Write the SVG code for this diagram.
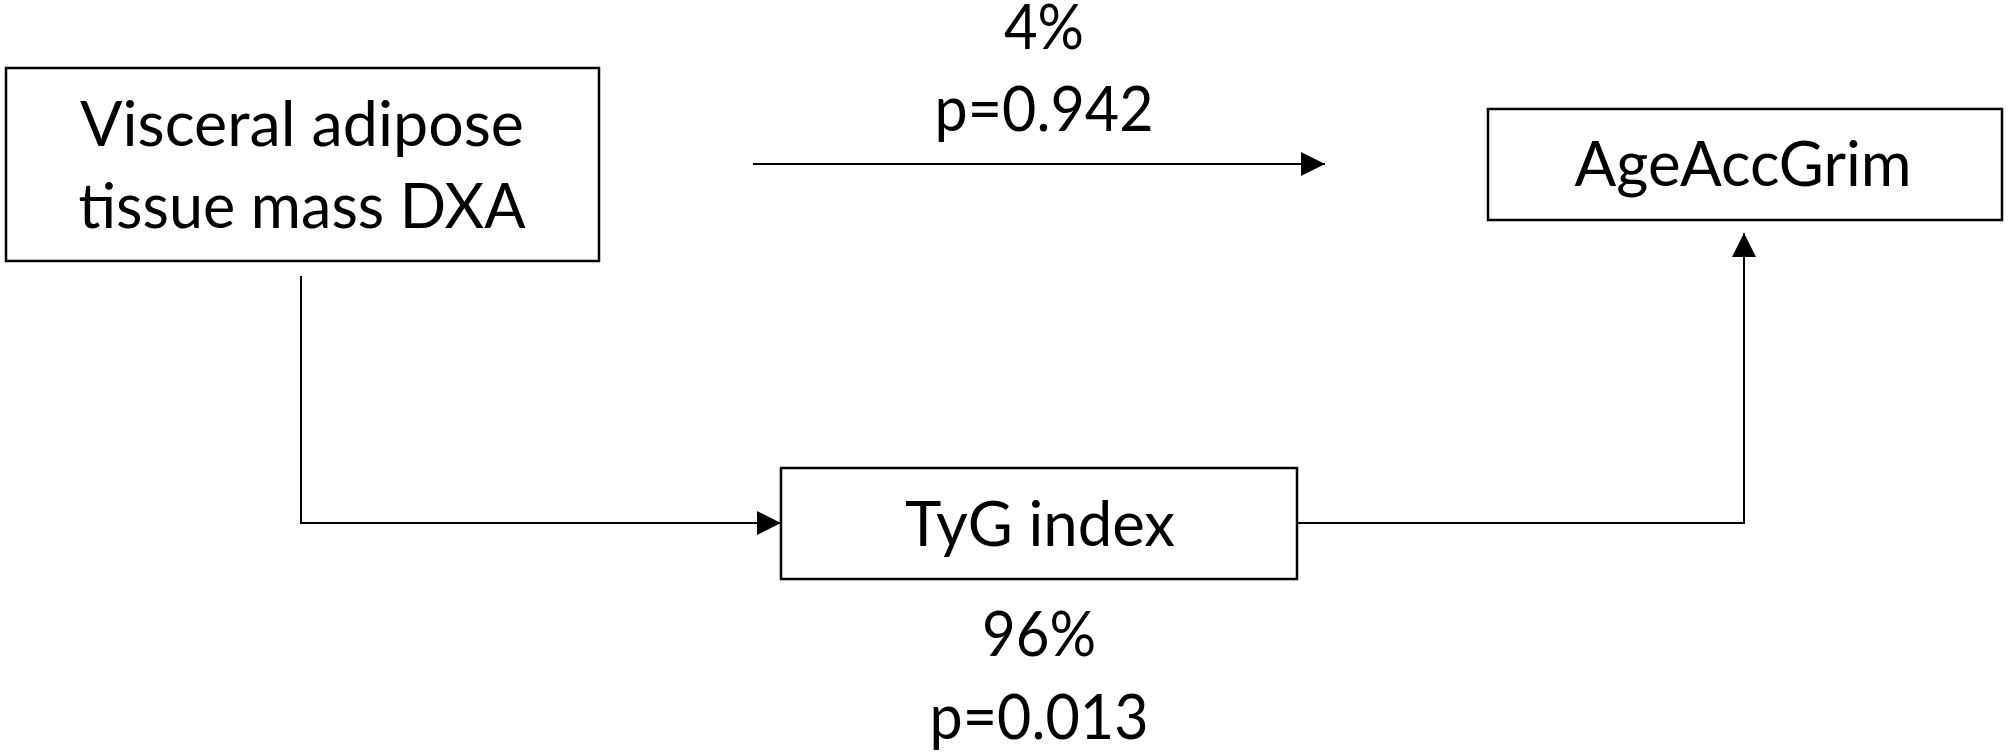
<svg xmlns="http://www.w3.org/2000/svg" width="2008" height="755" viewBox="0 0 2008 755">
<style>
.box{fill:#fff;stroke:#000;stroke-width:2.5}
.conn{fill:none;stroke:#000;stroke-width:2}
text{font-family:Lato,"Liberation Sans",sans-serif;font-size:62px;fill:#000;text-anchor:middle}
</style>
<defs>
<marker id="arr" markerUnits="userSpaceOnUse" markerWidth="24" markerHeight="24" viewBox="0 0 22 22" refX="22" refY="11" orient="auto">
<path d="M0,0 L22,11 L0,22 Z" fill="#000"/>
</marker>
</defs>
<rect width="2008" height="755" fill="#fff"/>
<g id="connectors">
<line class="conn" x1="753" y1="164" x2="1325" y2="164" marker-end="url(#arr)"/>
<polyline class="conn" points="301,276 301,523 781,523" marker-end="url(#arr)"/>
<polyline class="conn" points="1297,523 1744,523 1744,233" marker-end="url(#arr)"/>
</g>
<g id="label-direct">
<text x="1044" y="49" textLength="80" lengthAdjust="spacingAndGlyphs">4%</text>
<text x="1044" y="131" textLength="219" lengthAdjust="spacingAndGlyphs">p=0.942</text>
</g>
<g id="label-indirect">
<text x="1039" y="656" textLength="114" lengthAdjust="spacingAndGlyphs">96%</text>
<text x="1039" y="739" textLength="219" lengthAdjust="spacingAndGlyphs">p=0.013</text>
</g>
<g id="node-vat">
<rect class="box" x="6" y="68" width="593" height="193"/>
<text x="302" y="146" textLength="444" lengthAdjust="spacingAndGlyphs">Visceral adipose</text>
<text x="302" y="228" textLength="447" lengthAdjust="spacingAndGlyphs">tissue mass DXA</text>
</g>
<g id="node-age">
<rect class="box" x="1488" y="109" width="514" height="111"/>
<text x="1743" y="186" textLength="337" lengthAdjust="spacingAndGlyphs">AgeAccGrim</text>
</g>
<g id="node-tyg">
<rect class="box" x="781" y="468" width="516" height="111"/>
<text x="1040" y="546" textLength="270" lengthAdjust="spacingAndGlyphs">TyG index</text>
</g>
</svg>
